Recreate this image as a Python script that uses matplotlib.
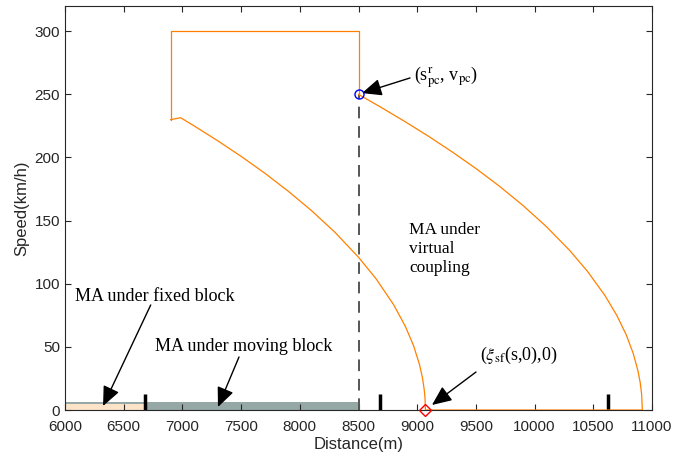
import numpy as np
import matplotlib
matplotlib.use("Agg")
import matplotlib.pyplot as plt

plt.rcParams['font.family'] = ['Liberation Sans', 'DejaVu Sans']
plt.rcParams['mathtext.fontset'] = 'stix'

# speed ceiling of the following train (distance m, speed km/h)
ceiling_s = [8500, 8500, 6900, 6900]
ceiling_v = [250, 300, 300, 230]

# braking curve towards the fixed point
brake1_s = [6900, 6985, 7100, 7300, 7500, 7700, 7900, 8100, 8300, 8500, 8650,
            8800, 8900, 8970, 9020, 9045, 9060, 9067, 9070, 10918]
brake1_v = [230, 231.5, 225.0, 213.3, 200.9, 187.7, 173.4, 157.9, 140.7, 121.0,
            103.9, 83.3, 66.1, 50.7, 35.9, 25.4, 16.0, 8.8, 0, 0]

# braking curve under virtual coupling
brake2_s = [8500, 8700, 8900, 9100, 9300, 9500, 9700, 9900, 10100, 10300, 10450,
            10600, 10700, 10780, 10840, 10880, 10900, 10912, 10918]
brake2_v = [250, 239.3, 228.2, 216.6, 204.3, 191.3, 177.3, 162.1, 145.3, 126.3,
            109.9, 90.6, 75.0, 59.7, 44.9, 31.3, 21.6, 12.4, 0]

# key points
pc_point = (8500, 250)
sf_point = (9070, 0)

# movement authority bars
moving_ma = (6000, 8500)
fixed_ma = (6000, 6683)
block_marks = [6683, 8682, 10622]

orange = '#FF8000'
dark = '#262626'

fig = plt.figure(figsize=(6.97, 4.57), dpi=100)
ax = fig.add_axes([0.0933, 0.1028, 0.8421, 0.8841])

ax.fill_between(moving_ma, 0, 6.5, color='#95A8A5', lw=0, zorder=1)
ax.fill_between(fixed_ma, 0, 4.8, color='#FDE4C8', lw=0, zorder=1.5)
ax.vlines(block_marks, 0, 12.5, colors='k', lw=2.5, zorder=3)

ax.plot([pc_point[0], pc_point[0]], [0, pc_point[1]], color='#555555', lw=1.4,
        dashes=(6, 4), zorder=2)
ax.plot(ceiling_s, ceiling_v, color=orange, lw=0.9, zorder=4)
ax.plot(brake1_s, brake1_v, color=orange, lw=0.9, zorder=4)
ax.plot(brake2_s, brake2_v, color=orange, lw=0.9, zorder=4)

ax.plot(*pc_point, 'o', mfc='none', mec='blue', ms=6.5, mew=1, zorder=5, clip_on=False)
ax.plot(*sf_point, 'D', mfc='none', mec='red', ms=6, mew=1, zorder=5, clip_on=False)

arrow = dict(arrowstyle='-|>,head_length=0.8,head_width=0.35', color='k', lw=1,
             mutation_scale=15, shrinkA=0, shrinkB=0)
serif = ['Liberation Serif', 'DejaVu Serif']

ax.text(6085, 90.3, 'MA under fixed block', family=serif, fontsize=13, va='center')
ax.annotate('', xy=(6324, 3.2), xytext=(6730, 83.2), arrowprops=arrow)

ax.text(6767, 50.1, 'MA under moving block', family=serif, fontsize=13, va='center')
ax.annotate('', xy=(7303, 2.4), xytext=(7482, 42), arrowprops=arrow)

ax.text(8930, 127.5, 'MA under\nvirtual\ncoupling', family=serif, fontsize=12.5,
        va='center', linespacing=1.25)

ax.text(8973, 263, r'(s$^{\mathrm{r}}_{\mathrm{pc}}$, v$_{\mathrm{pc}}$)',
        family=serif, fontsize=13, va='center')
ax.annotate('', xy=(8530, 251), xytext=(8939, 263), arrowprops=arrow)

ax.text(9535, 43.6, r'($\xi_{\mathrm{sf}}$(s,0),0)', family=serif, fontsize=13,
        va='center')
ax.annotate('', xy=(9126, 4), xytext=(9501, 30.1), arrowprops=arrow)

ax.set_xlim(6000, 11000)
ax.set_ylim(0, 320)
ax.set_xticks(np.arange(6000, 11001, 500))
ax.set_yticks(np.arange(0, 301, 50))
ax.tick_params(direction='in', top=True, right=True, length=4, width=0.8,
               colors=dark, labelsize=11)
ax.tick_params(axis='x', pad=7)
for sp in ax.spines.values():
    sp.set_color(dark)
    sp.set_linewidth(0.8)

ax.set_xlabel('Distance(m)', fontsize=12, color=dark, labelpad=2)
ax.set_ylabel('Speed(km/h)', fontsize=12, color=dark, labelpad=4)

fig.savefig('out.png', dpi=100)
